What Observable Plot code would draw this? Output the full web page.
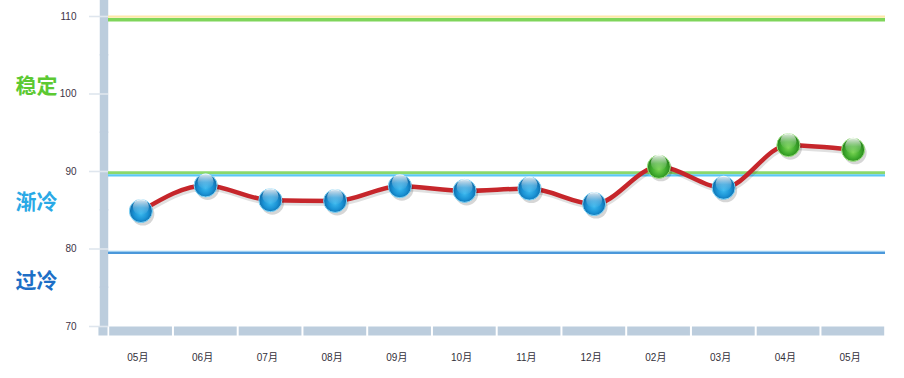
<!DOCTYPE html>
<html>
<head>
<meta charset="utf-8">
<script src="https://cdn.jsdelivr.net/npm/d3@7"></script>
<script src="https://cdn.jsdelivr.net/npm/@observablehq/plot@0.6"></script>
<style>
  html, body { margin: 0; padding: 0; background: #fff; }
  #chart svg { display: block; }
</style>
</head>
<body>
<div id="chart"></div>
<script>
// ---- data ----
const months = ["05月", "06月", "07月", "08月", "09月", "10月", "11月", "12月", "02月", "03月", "04月", "05月"];
const values = [84.9, 88.2, 86.3, 86.2, 88.1, 87.5, 87.8, 85.8, 90.6, 87.9, 93.4, 92.8];
const yTicks = [70, 80, 90, 100, 110];
const zoneNames = ["稳定", "渐冷", "过冷"];
const zoneLevels = [101, 86, 75.8];
const zoneColors = ["#5cc932", "#2aa9e6", "#1d6fc6"];
const greenThreshold = 90;

const data = months.map((m, i) => ({i, month: m, value: values[i]}));
const zones = zoneNames.map((n, k) => ({name: n, level: zoneLevels[k], color: zoneColors[k]}));

// bar segments (axis decoration) built from ticks
const vSegs = [[105, 112.1], [95, 105], [85, 95], [75, 85], [70, 75]];
const hSegs = d3.range(months.length).map(i => ({x1: i - 0.5, x2: i + 0.5}));

const barColor = "#bccddd";
const fontFam = "'Liberation Sans', Arial, 'Noto Sans CJK SC', sans-serif";

const chart = Plot.plot({
  width: 904,
  height: 378,
  marginLeft: 108,
  marginRight: 19,
  marginTop: 16,
  marginBottom: 52,
  style: {fontFamily: fontFam, background: "#fff", overflow: "visible"},
  x: {domain: [-0.5, months.length - 0.5]},
  y: {domain: [70, 110]},
  marks: [
    // vertical segmented bar
    Plot.ruleX(vSegs, {x: -0.5, y1: d => d[0], y2: d => d[1], dx: -4.5, stroke: barColor, strokeWidth: 8.5, insetTop: 0.8, insetBottom: 0.8}),
    // corner piece
    Plot.ruleY([70], {y: 70, x1: -0.64, x2: -0.5, dy: 4.5, dx: -0.5, stroke: barColor, strokeWidth: 9}),
    // bottom segmented bar
    Plot.ruleY(hSegs, {y: 70, x1: "x1", x2: "x2", dy: 4.5, stroke: barColor, strokeWidth: 9, insetLeft: 1.2, insetRight: 0.8}),
    // y axis
    Plot.axisY(yTicks, {tickSize: 19, tickPadding: 13, stroke: "#dfe6ee", strokeWidth: 1.6, fill: "#3d3346", fontSize: 10, label: null, style: "letter-spacing:1.5px"}),
    // x axis labels
    Plot.axisX(d3.range(months.length), {tickSize: 0, tickPadding: 27, tickFormat: i => months[i], fill: "#33303a", fontSize: 10, dx: -3, label: null, style: "letter-spacing:1.2px"}),
    // reference lines
    Plot.ruleY([110], {dy: 0.2, stroke: "#fde8a8", strokeWidth: 2.2}),
    Plot.ruleY([110], {dy: 3.3, stroke: "#7fd55a", strokeWidth: 3.6}),
    Plot.ruleY([90], {dy: 1.2, stroke: "#8bd86c", strokeWidth: 3}),
    Plot.ruleY([90], {dy: 3.9, stroke: "#5cc8f6", strokeWidth: 2.2}),
    Plot.ruleY([80], {dy: 2.6, stroke: "#9ccdf0", strokeWidth: 1.6}),
    Plot.ruleY([80], {dy: 4.0, stroke: "#4b98da", strokeWidth: 2}),
    // zone labels
    Plot.text(zones, {x: -0.5, y: "level", text: "name", fill: "color", dx: -72, fontSize: 21, fontWeight: "bold", textAnchor: "middle", fontFamily: "'Noto Sans CJK SC', sans-serif"}),
    // line shadow
    Plot.line(data, {x: "i", y: "value", curve: "monotone-x", stroke: "#000", strokeOpacity: 0.12, strokeWidth: 5, dx: 1, dy: 2.5}),
    // line
    Plot.line(data, {x: "i", y: "value", curve: "monotone-x", stroke: "#c6262b", strokeWidth: 4.5}),
    // marker shadows
    Plot.dot(data, {x: "i", y: "value", r: 11.5, fill: "#000", fillOpacity: 0.16, dx: 2, dy: 3}),
    // markers
    Plot.dot(data.filter(d => d.value <= greenThreshold), {x: "i", y: "value", r: 11.5, fill: "url(#gBlue)", stroke: "#7fd4f7", strokeWidth: 1}),
    Plot.dot(data.filter(d => d.value > greenThreshold), {x: "i", y: "value", r: 11.5, fill: "url(#gGreen)", stroke: "#9ae27e", strokeWidth: 1}),
    // gloss
    Plot.dot(data, {x: "i", y: "value", r: 8, dy: -4, fill: "url(#gGloss)"})
  ]
});

const defs = d3.select(chart).insert("defs", ":first-child");
function radial(id, stops) {
  const g = defs.append("radialGradient").attr("id", id)
    .attr("cx", "50%").attr("cy", "55%").attr("r", "55%").attr("fx", "50%").attr("fy", "62%");
  stops.forEach(([o, c]) => g.append("stop").attr("offset", o).attr("stop-color", c));
}
radial("gBlue", [[0, "#3ab8ee"], [0.55, "#1a92d4"], [1, "#0b62a0"]]);
radial("gGreen", [[0, "#78d452"], [0.55, "#3fab2d"], [1, "#237a1a"]]);
const gl = defs.append("linearGradient").attr("id", "gGloss").attr("x1", 0).attr("y1", 0).attr("x2", 0).attr("y2", 1);
gl.append("stop").attr("offset", 0).attr("stop-color", "#fff").attr("stop-opacity", 0.9);
gl.append("stop").attr("offset", 0.55).attr("stop-color", "#fff").attr("stop-opacity", 0.25);
gl.append("stop").attr("offset", 1).attr("stop-color", "#fff").attr("stop-opacity", 0);

document.getElementById("chart").append(chart);
</script>
</body>
</html>
